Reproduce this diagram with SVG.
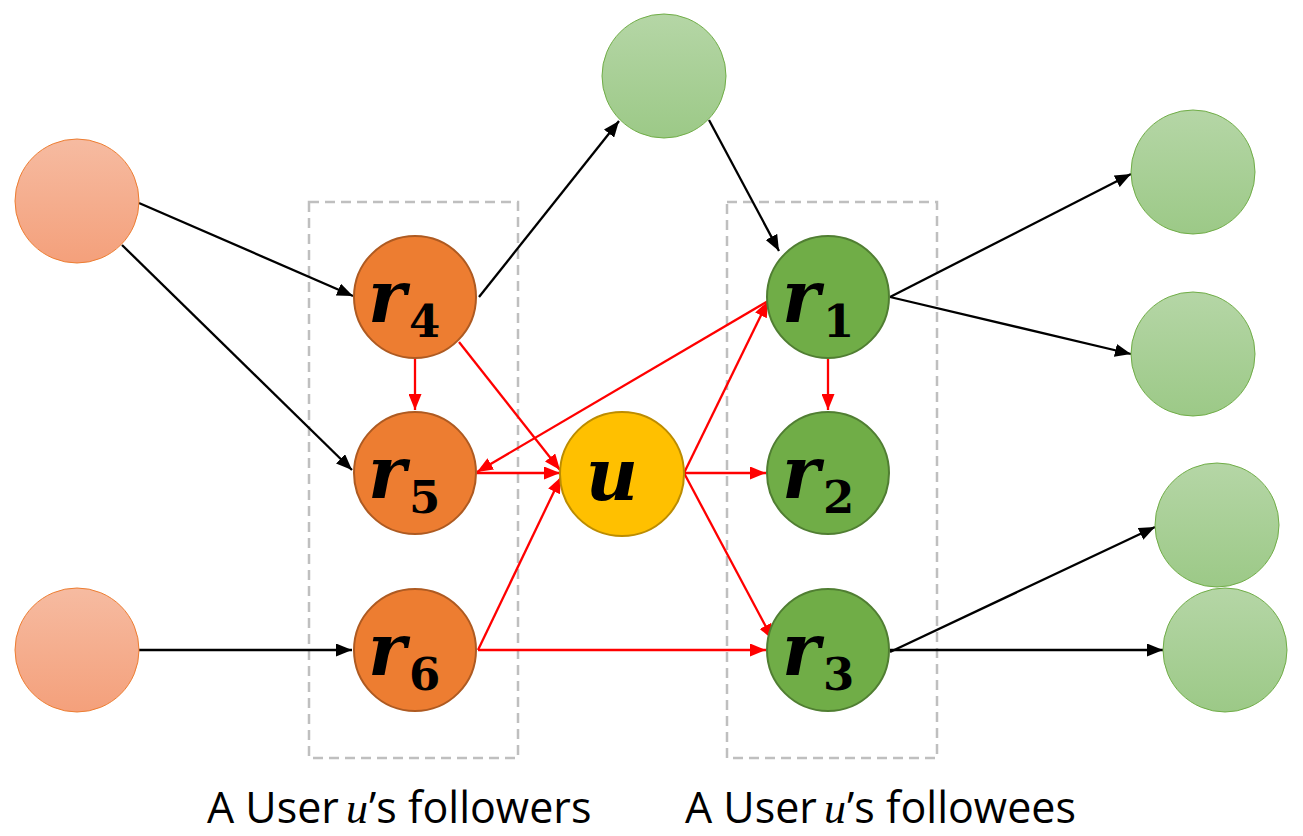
<svg xmlns="http://www.w3.org/2000/svg" width="1303" height="836" viewBox="0 0 1303 836">
<style>
.box{fill:none;stroke:#BFBFBF;stroke-width:2.5;stroke-dasharray:10 6}
.blk{stroke:#000;stroke-width:2.3;fill:none}
.red{stroke:#FF0000;stroke-width:2.3;fill:none}
.or{fill:#ED7D31;stroke:#AE5A21;stroke-width:2}
.gr{fill:#70AD47;stroke:#507E32;stroke-width:2}
.yl{fill:#FFC000;stroke:#BC8C00;stroke-width:2}
.lo{fill:url(#gO);stroke:#ED7D31;stroke-width:1}
.lg{fill:url(#gG);stroke:#70AD47;stroke-width:1}
.lbl{font-family:"DejaVu Serif",serif;font-weight:bold;font-style:italic;font-size:72px;fill:#000}
.sub{font-family:"DejaVu Serif",serif;font-weight:bold;font-size:45px;fill:#000}
.cap{font-family:"Open Sans","Noto Sans",sans-serif;font-size:43px;fill:#000}
.mi{font-family:"Liberation Serif",serif;font-style:italic;font-size:44px;fill:#000}
</style>
<defs>
<linearGradient id="gO" x1="0" y1="0" x2="0" y2="1"><stop offset="0" stop-color="#F6BBA1"/><stop offset="1" stop-color="#F4A07B"/></linearGradient>
<linearGradient id="gG" x1="0" y1="0" x2="0" y2="1"><stop offset="0" stop-color="#B5D6A6"/><stop offset="1" stop-color="#9CC987"/></linearGradient>
<marker id="aB" markerUnits="userSpaceOnUse" markerWidth="16" markerHeight="13" refX="16" refY="6.5" orient="auto"><path d="M0,0 L16,6.5 L0,13 z" fill="#000"/></marker>
<marker id="aR" markerUnits="userSpaceOnUse" markerWidth="16" markerHeight="13" refX="16" refY="6.5" orient="auto"><path d="M0,0 L16,6.5 L0,13 z" fill="#FF0000"/></marker>
</defs>
<rect width="1303" height="836" fill="#fff"/>
<g id="groups">
<rect class="box" x="309" y="202" width="209" height="556"/>
<rect class="box" x="727" y="202" width="210" height="556"/>
</g>
<g id="connectors">
<line class="blk" x1="139" y1="203" x2="353" y2="296" marker-end="url(#aB)"/>
<line class="blk" x1="122" y1="245" x2="352" y2="470" marker-end="url(#aB)"/>
<line class="blk" x1="139" y1="650" x2="352" y2="650" marker-end="url(#aB)"/>
<line class="blk" x1="479" y1="297" x2="619" y2="121" marker-end="url(#aB)"/>
<line class="blk" x1="709" y1="120" x2="779" y2="251" marker-end="url(#aB)"/>
<line class="blk" x1="890" y1="297" x2="1131" y2="174" marker-end="url(#aB)"/>
<line class="blk" x1="890" y1="297" x2="1131" y2="354" marker-end="url(#aB)"/>
<line class="blk" x1="890" y1="652" x2="1155" y2="527" marker-end="url(#aB)"/>
<line class="blk" x1="890" y1="650" x2="1163" y2="650" marker-end="url(#aB)"/>
<line class="red" x1="415" y1="359" x2="415" y2="410" marker-end="url(#aR)"/>
<line class="red" x1="459" y1="342" x2="560" y2="470" marker-end="url(#aR)"/>
<line class="red" x1="477" y1="473" x2="560" y2="473" marker-end="url(#aR)"/>
<line class="red" x1="478" y1="650" x2="561" y2="477" marker-end="url(#aR)"/>
<line class="red" x1="768" y1="301" x2="477" y2="472" marker-end="url(#aR)"/>
<line class="red" x1="684" y1="473" x2="768" y2="301" marker-end="url(#aR)"/>
<line class="red" x1="684" y1="473" x2="766" y2="473" marker-end="url(#aR)"/>
<line class="red" x1="684" y1="473" x2="773" y2="640" marker-end="url(#aR)"/>
<line class="red" x1="828" y1="359" x2="828" y2="410" marker-end="url(#aR)"/>
<line class="red" x1="478" y1="650" x2="766" y2="650" marker-end="url(#aR)"/>
</g>
<g id="nL1"><circle class="lo" cx="77" cy="201" r="62"/></g>
<g id="nL2"><circle class="lo" cx="77" cy="650" r="62"/></g>
<g id="nT"><circle class="lg" cx="664" cy="76" r="62"/></g>
<g id="nR1"><circle class="lg" cx="1193" cy="172" r="62"/></g>
<g id="nR2"><circle class="lg" cx="1193" cy="354" r="62"/></g>
<g id="nR3"><circle class="lg" cx="1217" cy="525" r="62"/></g>
<g id="nR4"><circle class="lg" cx="1225" cy="650" r="62"/></g>
<g id="r4"><circle class="or" cx="415" cy="297" r="61"/><text class="lbl" x="368" y="322">r</text><text class="sub" x="409" y="337">4</text></g>
<g id="r5"><circle class="or" cx="415" cy="473" r="61"/><text class="lbl" x="368" y="498">r</text><text class="sub" x="409" y="513">5</text></g>
<g id="r6"><circle class="or" cx="415" cy="650" r="61"/><text class="lbl" x="368" y="675">r</text><text class="sub" x="409" y="690">6</text></g>
<g id="u"><circle class="yl" cx="622" cy="474" r="62"/><text class="lbl" x="612" y="500" text-anchor="middle">u</text></g>
<g id="r1"><circle class="gr" cx="828" cy="297" r="61"/><text class="lbl" x="782" y="322">r</text><text class="sub" x="823" y="337">1</text></g>
<g id="r2"><circle class="gr" cx="828" cy="473" r="61"/><text class="lbl" x="782" y="498">r</text><text class="sub" x="823" y="513">2</text></g>
<g id="r3"><circle class="gr" cx="828" cy="650" r="61"/><text class="lbl" x="782" y="675">r</text><text class="sub" x="823" y="690">3</text></g>
<g id="captions">
<text class="cap" x="207" y="823">A User</text>
<text class="mi" x="346" y="823">u</text>
<text class="cap" x="369" y="823">’s followers</text>
<text class="cap" x="685" y="823">A User</text>
<text class="mi" x="824" y="823">u</text>
<text class="cap" x="847" y="823">’s followees</text>
</g>
</svg>
